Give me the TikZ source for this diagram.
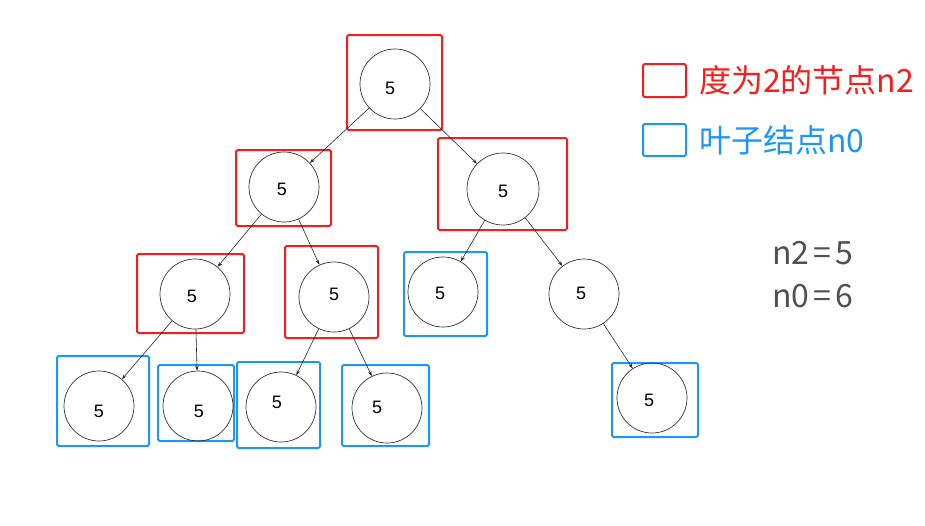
\documentclass[tikz,border=0pt]{standalone}
\usepackage{fontspec}
\setmainfont{Liberation Sans}
\newfontfamily\cjk{Noto Sans CJK SC}
\usetikzlibrary{arrows.meta}
\definecolor{myred}{RGB}{245,30,30}
\definecolor{myblue}{RGB}{30,150,245}
\definecolor{mygray}{RGB}{80,80,80}
\tikzset{
  tn/.style={circle, draw=black!80, line width=0.7pt, minimum size=70pt, inner sep=0pt},
  num/.style={inner sep=0pt, font=\fontsize{18}{20}\selectfont},
  rbox/.style={draw=myred, line width=2pt, rounded corners=1.5pt},
  bbox/.style={draw=myblue, line width=2pt, rounded corners=1.5pt},
  edge/.style={draw=black!85, line width=0.6pt, -{Stealth[length=5pt,width=3.5pt]}},
  legtext/.style={anchor=west, inner sep=0pt, font=\cjk\fontsize{32}{36}\selectfont},
}
\newcommand{\tlab}[2]{label={[num, xshift=#1pt, yshift=#2pt]center:5}}
\begin{document}
\begin{tikzpicture}[x=1pt,y=-1pt]
\useasboundingbox (0,0) rectangle (925,525);
% boxes
\draw[rbox] (347,35) rectangle (442,130);
\draw[rbox] (236,150) rectangle (331,226);
\draw[rbox] (438,138) rectangle (567,230);
\draw[rbox] (137,254) rectangle (244,333);
\draw[rbox] (285,246) rectangle (378,338);
\draw[bbox] (404,252) rectangle (487,336);
\draw[bbox] (57,356) rectangle (149,446);
\draw[bbox] (158,365) rectangle (234,441);
\draw[bbox] (237,362) rectangle (320,448);
\draw[bbox] (342,365) rectangle (429,446);
\draw[bbox] (612,363) rectangle (698,437);
% nodes
\node[tn, label={[num, xshift=-5pt, yshift=-4pt]center:5}] (r) at (395,84) {};
\node[tn, label={[num, xshift=-2pt, yshift=-2pt]center:5}] (a) at (284,187) {};
\node[tn, minimum size=72pt, label={[num, xshift=0pt, yshift=-2pt]center:5}] (b) at (503,189) {};
\node[tn, label={[num, xshift=-3pt, yshift=-2pt]center:5}] (c) at (195,294) {};
\node[tn, label={[num, xshift=0pt, yshift=3pt]center:5}] (d) at (334,297) {};
\node[tn, label={[num, xshift=-3pt, yshift=-1pt]center:5}] (e) at (443,292) {};
\node[tn, label={[num, xshift=-3pt, yshift=1pt]center:5}] (f) at (584,294) {};
\node[tn, label={[num, xshift=0pt, yshift=-5pt]center:5}] (g) at (99,406) {};
\node[tn, label={[num, xshift=1pt, yshift=-5pt]center:5}] (h) at (198,406) {};
\node[tn, label={[num, xshift=-4pt, yshift=5pt]center:5}] (i) at (281,407) {};
\node[tn, label={[num, xshift=-10pt, yshift=1pt]center:5}] (j) at (387,408) {};
\node[tn, label={[num, xshift=-3pt, yshift=-2pt]center:5}] (k) at (652,398) {};
% edges
\draw[edge] (r) -- (a);
\draw[edge] (r) -- (b);
\draw[edge] (a) -- (c);
\draw[edge] (a) -- (d);
\draw[edge] (b) -- (e);
\draw[edge] (b) -- (f);
\draw[edge] (c) -- (g);
\draw[edge] (c) -- (h);
\draw[edge] (d) -- (i);
\draw[edge] (d) -- (j);
\draw[edge] (f) -- (k);
% legend
\draw[rbox] (643,64) rectangle (686,97);
\draw[bbox] (643,124) rectangle (686,156);
\node[legtext, text=myred] (l1) at (699,80) {度为2的节点n2};
\node[legtext, text=myblue] (l2) at (699,140) {叶子结点n0};
\node[legtext, text=mygray] (s1) at (772,253) {n2\kern4pt=\kern4pt5};
\node[legtext, text=mygray] (s2) at (772,296) {n0\kern4pt=\kern4pt6};
\end{tikzpicture}
\end{document}
